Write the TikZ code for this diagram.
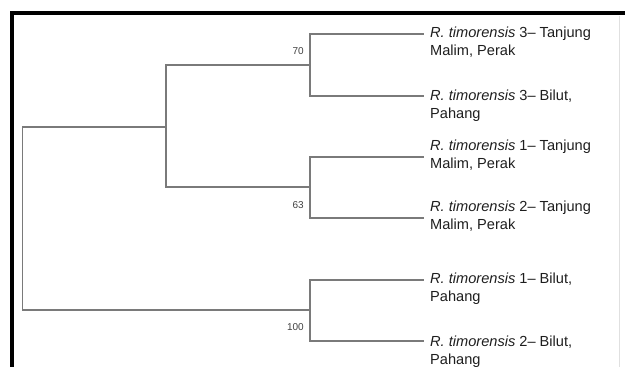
\documentclass[tikz,border=0pt]{standalone}
\usepackage{fontspec}
\setmainfont{Liberation Sans}
\definecolor{branch}{HTML}{7A7A7A}
\definecolor{txt}{HTML}{1E1E1E}
\tikzset{
  branchline/.style={draw=branch, line width=1.3pt, line cap=rect},
  taxon/.style={anchor=west, inner sep=0pt, align=left, text=txt,
    font=\fontsize{14.6}{17.8}\selectfont},
  boot/.style={anchor=east, inner sep=0pt, text=txt!85,
    font=\fontsize{10}{11}\selectfont}
}
\begin{document}
\begin{tikzpicture}[x=1pt,y=-1pt]
\useasboundingbox (0,0) rectangle (625,367);
% frame
\draw[line width=4.2pt] (11.8,367) -- (11.8,13.2) -- (625,13.2);
\draw[black!12, line width=0.8pt] (619,15.5) -- (619,367);

% internal node coordinates
\coordinate (r1) at (22.5,127);
\coordinate (r2) at (22.5,310);
\coordinate (a1) at (166,65);
\coordinate (a2) at (166,187);
\coordinate (c1a) at (310,34);
\coordinate (c1b) at (310,96);
\coordinate (c2a) at (310,157);
\coordinate (c2b) at (310,218);
\coordinate (c3a) at (310,280);
\coordinate (c3b) at (310,341);
% leaf ends
\coordinate (e1) at (423,34);
\coordinate (e2) at (423,96);
\coordinate (e3) at (423,157);
\coordinate (e4) at (423,218);
\coordinate (e5) at (423,280);
\coordinate (e6) at (423,341);

% tree
\draw[branchline] (r1) -- (r2);
\draw[branchline] (r1) -- (a1 |- r1);
\draw[branchline] (r2) -- (c3a |- r2);
\draw[branchline] (a1) -- (a2);
\draw[branchline] (a1) -- (c1a |- a1);
\draw[branchline] (a2) -- (c2a |- a2);
\draw[branchline] (c1a) -- (c1b);
\draw[branchline] (c2a) -- (c2b);
\draw[branchline] (c3a) -- (c3b);
\draw[branchline] (c1a) -- (e1);
\draw[branchline] (c1b) -- (e2);
\draw[branchline] (c2a) -- (e3);
\draw[branchline] (c2b) -- (e4);
\draw[branchline] (c3a) -- (e5);
\draw[branchline] (c3b) -- (e6);

% bootstrap values
\node[boot] (b70) at (304,51) {70};
\node[boot] (b63) at (304,205) {63};
\node[boot] (b100) at (304,327) {100};

% taxa
\node[taxon] (t1) at (430,42.5) {\textit{R. timorensis} 3-- Tanjung\\Malim, Perak};
\node[taxon] (t2) at (430,106) {\textit{R. timorensis} 3-- Bilut,\\Pahang};
\node[taxon] (t3) at (430,155.5) {\textit{R. timorensis} 1-- Tanjung\\Malim, Perak};
\node[taxon] (t4) at (430,216.5) {\textit{R. timorensis} 2-- Tanjung\\Malim, Perak};
\node[taxon] (t5) at (430,288.5) {\textit{R. timorensis} 1-- Bilut,\\Pahang};
\node[taxon] (t6) at (430,351.5) {\textit{R. timorensis} 2-- Bilut,\\Pahang};
\end{tikzpicture}
\end{document}
